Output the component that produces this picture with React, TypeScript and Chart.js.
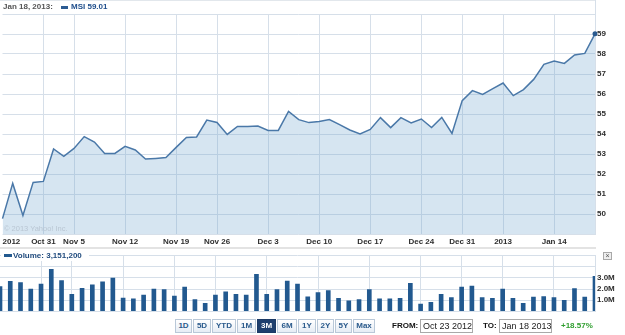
import React, { useEffect, useRef } from "react";
import { Chart, registerables } from "chart.js";

Chart.register(...registerables);

const dates = [
  "Oct 23", "Oct 24", "Oct 25", "Oct 26", "Oct 31", "Nov 1", "Nov 2",
  "Nov 5", "Nov 6", "Nov 7", "Nov 8", "Nov 9",
  "Nov 12", "Nov 13", "Nov 14", "Nov 15", "Nov 16",
  "Nov 19", "Nov 20", "Nov 21", "Nov 23",
  "Nov 26", "Nov 27", "Nov 28", "Nov 29", "Nov 30",
  "Dec 3", "Dec 4", "Dec 5", "Dec 6", "Dec 7",
  "Dec 10", "Dec 11", "Dec 12", "Dec 13", "Dec 14",
  "Dec 17", "Dec 18", "Dec 19", "Dec 20", "Dec 21",
  "Dec 24", "Dec 26", "Dec 27", "Dec 28",
  "Dec 31", "Jan 2", "Jan 3", "Jan 4",
  "Jan 7", "Jan 8", "Jan 9", "Jan 10", "Jan 11",
  "Jan 14", "Jan 15", "Jan 16", "Jan 17", "Jan 18",
];

const prices = [
  49.77, 51.53, 49.93, 51.58, 51.63, 53.25, 52.88,
  53.28, 53.87, 53.6, 53.03, 53.03,
  53.38, 53.2, 52.75, 52.78, 52.82,
  53.33, 53.83, 53.85, 54.7,
  54.58, 53.98, 54.38, 54.38, 54.4,
  54.18, 54.18, 55.13, 54.72, 54.57,
  54.62, 54.72, 54.47, 54.2, 54.0,
  54.23, 54.82, 54.32, 54.82, 54.55,
  54.75, 54.32, 54.83, 54.03,
  55.67, 56.17, 55.98, 56.27,
  56.55, 55.92, 56.22, 56.73, 57.48,
  57.65, 57.53, 57.95, 58.03, 59.01,
];

// volume in millions of shares
const volumes = [
  2.22, 2.69, 2.59, 2.0, 2.44, 3.78, 2.76,
  1.53, 2.07, 2.39, 2.64, 2.99,
  1.18, 1.11, 1.46, 2.0, 1.95,
  1.36, 2.17, 1.04, 0.72,
  1.46, 1.75, 1.53, 1.46, 3.33,
  1.53, 1.95, 2.72, 2.44, 1.3,
  1.69, 1.85, 1.16, 0.94, 1.04,
  1.95, 1.11, 1.11, 1.16, 2.52,
  0.64, 0.81, 1.53, 1.23,
  2.17, 2.27, 1.23, 1.16,
  2.0, 1.16, 0.72, 1.28, 1.33,
  1.23, 0.99, 2.05, 1.28, 3.1512,
];

const xTickDates = ["Oct 23", "Oct 31", "Nov 5", "Nov 12", "Nov 19", "Nov 26", "Dec 3", "Dec 10", "Dec 17", "Dec 24", "Dec 31", "Jan 7", "Jan 14"];
const xTickTexts = ["2012", "Oct 31", "Nov 5", "Nov 12", "Nov 19", "Nov 26", "Dec 3", "Dec 10", "Dec 17", "Dec 24", "Dec 31", "2013", "Jan 14"];
const gridDates = xTickDates.slice(1);

const priceTicks = [50, 51, 52, 53, 54, 55, 56, 57, 58, 59];
const volumeTicks = [1, 2, 3];

const rangeButtons = ["1D", "5D", "YTD", "1M", "3M", "6M", "1Y", "2Y", "5Y", "Max"];
const rangeWidths = [18, 19, 25, 20, 20, 21, 19, 18, 18, 23];
const selectedRange = "3M";

const GRID = "#d6dfe9";
const LABEL = "#2e2e2e";
const FONT = '"Liberation Sans", Arial, sans-serif';

const gridIdx = new Set(gridDates.map((d) => dates.indexOf(d)));

const xLabelPlugin = {
  id: "xLabels",
  afterDraw(chart: any) {
    const { ctx, chartArea } = chart;
    const x = chart.scales.x;
    ctx.save();
    ctx.font = `bold 8px ${FONT}`;
    ctx.fillStyle = LABEL;
    ctx.textBaseline = "middle";
    ctx.textAlign = "left";
    xTickDates.forEach((d, i) => {
      const px = x.getPixelForValue(dates.indexOf(d));
      const t = xTickTexts[i];
      const w = ctx.measureText(t).width;
      let left = px - w / 2;
      if (left < chartArea.left) left = chartArea.left;
      ctx.fillText(t, left, chartArea.bottom + 8);
    });
    ctx.restore();
  },
};

export default function App() {
  const priceRef = useRef<HTMLCanvasElement>(null);
  const volRef = useRef<HTMLCanvasElement>(null);

  useEffect(() => {
    const last = prices.length - 1;
    const xGrid = {
      color: (c: any) => (gridIdx.has(c.index) ? GRID : "rgba(0,0,0,0)"),
      drawTicks: false,
      offset: false,
      lineWidth: 1,
    };
    const priceChart = new Chart(priceRef.current!, {
      type: "line",
      data: {
        labels: dates,
        datasets: [
          {
            data: prices,
            borderColor: "#4a78a8",
            borderWidth: 1.5,
            backgroundColor: "rgba(118,168,210,0.3)",
            fill: "start",
            tension: 0,
            pointRadius: (c: any) => (c.dataIndex === last ? 2.5 : 0),
            pointBackgroundColor: "#2a5a8f",
            pointBorderWidth: 0,
            pointHoverRadius: 0,
          },
        ],
      },
      options: {
        animation: false,
        responsive: false,
        devicePixelRatio: 1,
        events: [],
        layout: { padding: { top: 14, bottom: 16, left: 0, right: 0 } },
        plugins: { legend: { display: false }, tooltip: { enabled: false } },
        scales: {
          x: {
            type: "category",
            offset: false,
            grid: xGrid,
            border: { display: false },
            ticks: { display: false, autoSkip: false },
            afterFit: (s: any) => {
              s.height = 0;
            },
          },
          y: {
            position: "right",
            min: 49,
            max: 60,
            grid: { color: GRID, drawTicks: false },
            border: { display: true, color: GRID },
            ticks: {
              stepSize: 1,
              autoSkip: false,
              padding: 2,
              color: LABEL,
              font: { family: FONT, size: 8, weight: "bold" },
              callback: (v: any) => (priceTicks.includes(v) ? String(v) : ""),
            },
            afterFit: (s: any) => {
              s.width = 30;
            },
          },
        },
      },
      plugins: [xLabelPlugin],
    } as any);

    const volChart = new Chart(volRef.current!, {
      type: "bar",
      data: {
        labels: dates,
        datasets: [
          {
            data: volumes,
            backgroundColor: "#22598f",
            barThickness: 4,
          },
        ],
      },
      options: {
        animation: false,
        responsive: false,
        devicePixelRatio: 1,
        events: [],
        layout: { padding: { top: 0, bottom: 2, left: 0, right: 0 } },
        plugins: { legend: { display: false }, tooltip: { enabled: false } },
        scales: {
          x: {
            type: "category",
            offset: false,
            grid: xGrid,
            border: { display: false },
            ticks: { display: false, autoSkip: false },
            afterFit: (s: any) => {
              s.height = 0;
            },
          },
          y: {
            position: "right",
            min: 0,
            max: 5,
            grid: { color: GRID, drawTicks: false },
            border: { display: true, color: GRID },
            ticks: {
              stepSize: 1,
              autoSkip: false,
              padding: 2,
              color: LABEL,
              font: { family: FONT, size: 8, weight: "bold" },
              callback: (v: any) => (volumeTicks.includes(v) ? v.toFixed(1) + "M" : ""),
            },
            afterFit: (s: any) => {
              s.width = 30;
            },
          },
        },
      },
    } as any);

    return () => {
      priceChart.destroy();
      volChart.destroy();
    };
  }, []);

  const abs = (o: any) => ({ position: "absolute", ...o } as React.CSSProperties);
  const txt = { fontFamily: FONT, fontSize: 8, fontWeight: "bold", lineHeight: "10px", whiteSpace: "nowrap" } as React.CSSProperties;

  let bx = 175;
  const buttons = rangeButtons.map((b, i) => {
    const left = bx;
    bx += rangeWidths[i];
    const sel = b === selectedRange;
    return (
      <div
        key={b}
        style={abs({
          left,
          top: 319,
          width: rangeWidths[i] - 1,
          height: 14,
          boxSizing: "border-box",
          border: sel ? "1px solid #1b3a66" : "1px solid #b9c8d8",
          background: sel ? "#1e3f6e" : "linear-gradient(#ffffff, #e6edf5)",
          color: sel ? "#ffffff" : "#2a5a8c",
          textAlign: "center",
          ...txt,
          lineHeight: "12px",
        })}
      >
        {b}
      </div>
    );
  });

  return (
    <div style={abs({ left: 0, top: 0, width: 625, height: 335, background: "#fff", overflow: "hidden" })}>
      <canvas ref={priceRef} width={625} height={250} style={abs({ left: 0, top: 0, width: 625, height: 250 })} />
      <div style={abs({ left: 0, top: 0, width: 596, height: 1, background: "#e2e7ec" })} />
      <div style={abs({ left: 595, top: 0, width: 1, height: 14, background: GRID })} />
      <div style={abs({ left: 3, top: 2, color: "#555", ...txt })}>Jan 18, 2013:</div>
      <div style={abs({ left: 61, top: 6, width: 7, height: 3, background: "#2b5b92" })} />
      <div style={abs({ left: 71, top: 2, color: "#1f4e8c", ...txt })}>MSI 59.01</div>
      <div style={abs({ left: 4, top: 224, color: "#b9c6d3", fontFamily: FONT, fontSize: 7.5, lineHeight: "10px", whiteSpace: "nowrap" })}>
        © 2013 Yahoo! Inc.
      </div>

      <canvas ref={volRef} width={625} height={69} style={abs({ left: 0, top: 249, width: 625, height: 69 })} />
      <div style={abs({ left: 0, top: 247, width: 596, height: 2, background: "#e3e3e3" })} />
      <div style={abs({ left: 1, top: 251, width: 88, height: 10, background: "#fff" })} />
      <div style={abs({ left: 4, top: 254, width: 8, height: 3, background: "#22598f" })} />
      <div style={abs({ left: 13, top: 251, color: "#1f4a7d", ...txt })}>Volume: 3,151,200</div>
      <div
        style={abs({
          left: 603,
          top: 252,
          width: 9,
          height: 8,
          boxSizing: "border-box",
          border: "1px solid #a8a8a8",
          background: "#eeeeee",
          color: "#555",
          fontFamily: FONT,
          fontSize: 7,
          lineHeight: "6px",
          textAlign: "center",
        })}
      >
        ×
      </div>

      {buttons}

      <div style={abs({ left: 392, top: 321, color: "#111", ...txt })}>FROM:</div>
      <div
        style={abs({
          left: 420,
          top: 319,
          width: 53,
          height: 14,
          boxSizing: "border-box",
          border: "1px solid #a9a9a9",
          fontFamily: FONT,
          fontSize: 9,
          lineHeight: "12px",
          paddingLeft: 2,
          color: "#222",
          whiteSpace: "nowrap",
        })}
      >
        Oct 23 2012
      </div>
      <div style={abs({ left: 483, top: 321, color: "#111", ...txt })}>TO:</div>
      <div
        style={abs({
          left: 499,
          top: 319,
          width: 53,
          height: 14,
          boxSizing: "border-box",
          border: "1px solid #a9a9a9",
          fontFamily: FONT,
          fontSize: 9,
          lineHeight: "12px",
          paddingLeft: 2,
          color: "#222",
          whiteSpace: "nowrap",
        })}
      >
        Jan 18 2013
      </div>
      <div style={abs({ left: 561, top: 321, color: "#2f9e2f", ...txt })}>+18.57%</div>
    </div>
  );
}
